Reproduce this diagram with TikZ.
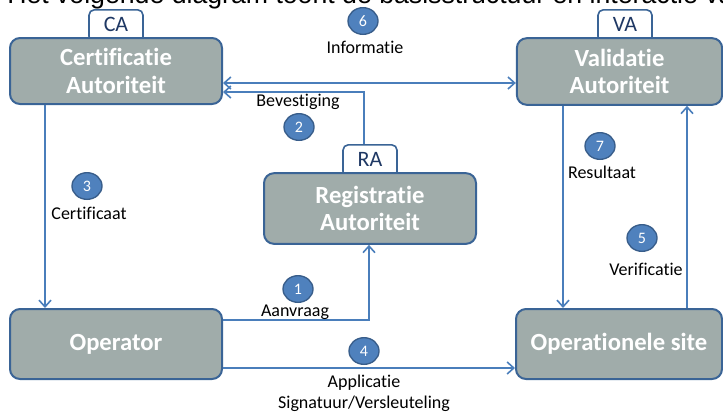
\documentclass[tikz,border=0pt]{standalone}
\usepackage{fontspec}
\setmainfont{Carlito}[Ligatures=NoCommon]
\newfontfamily\titlefont{Liberation Sans}
\usetikzlibrary{arrows.meta,positioning,shapes.geometric}
\definecolor{boxfill}{RGB}{160,172,170}
\definecolor{boxline}{RGB}{58,100,150}
\definecolor{arrowc}{RGB}{74,126,187}
\definecolor{circfill}{RGB}{79,129,189}
\definecolor{circline}{RGB}{56,93,138}
\definecolor{tabtext}{RGB}{31,56,100}
\tikzset{
  bigbox/.style={draw=boxline, line width=1.5pt, fill=boxfill, rounded corners=7.5pt,
    text=white, font=\fontsize{18.5}{20.5}\selectfont\bfseries, align=center, inner sep=0pt},
  tabbox/.style={draw=boxline, line width=1.2pt, fill=white, rounded corners=4pt,
    minimum width=40.5pt, minimum height=24pt, inner sep=0pt},
  tablabel/.style={text=tabtext, font=\fontsize{16.5}{18}\selectfont, inner sep=0pt},
  numc/.style={ellipse, draw=circline, line width=1pt, fill=circfill, minimum width=22.5pt,
    minimum height=20pt, inner sep=0pt, text=white, font=\fontsize{12}{13}\selectfont},
  lbl/.style={font=\fontsize{13.5}{15}\selectfont, inner sep=0pt, text=black},
  conn/.style={draw=arrowc, line width=1.6pt, -{Straight Barb[length=5pt,width=9pt,line width=1.2pt]}},
}
\begin{document}
\begin{tikzpicture}[x=0.75pt,y=-0.75pt]
\clip (0,0) rectangle (723,412);
\useasboundingbox (0,0) rectangle (723,412);
% title (cut off at top)
\node[anchor=base west, inner sep=0pt, font=\titlefont\fontsize{20}{22}\selectfont] (title) at (7,3) {Het volgende diagram toont de basisstructuur en interactie van};
% tabs
\node[tabbox, anchor=north] (tabca) at (116,9) {};
\node[tabbox, anchor=north] (tabva) at (625,9) {};
\node[tabbox, anchor=north] (tabra) at (370,144) {};
% boxes
\node[bigbox, minimum width=159pt, minimum height=49.5pt] (ca) at (116,71) {Certificatie\\Autoriteit};
\node[bigbox, minimum width=154pt, minimum height=50pt] (va) at (619.5,71.5) {Validatie\\Autoriteit};
\node[bigbox, minimum width=159pt, minimum height=53pt] (ra) at (370,208.5) {Registratie\\Autoriteit};
\node[bigbox, minimum width=159pt, minimum height=52.5pt] (op) at (116,344) {Operator};
\node[bigbox, minimum width=154.5pt, minimum height=52.5pt] (os) at (619,344) {Operationele site};
% tab labels
\node[tablabel] (lca) at (116,24.5) {CA};
\node[tablabel] (lva) at (625,24.5) {VA};
\node[tablabel] (lra) at (370,159.5) {RA};
% helper coordinates
\coordinate (yinfo) at (0,83);
\coordinate (ybev) at (0,92);
\coordinate (xbev) at (364,0);
\coordinate (yaan) at (0,320);
\coordinate (xaan) at (369,0);
\coordinate (xcert) at (45,0);
\coordinate (yapp) at (0,368);
\coordinate (xres) at (563,0);
\coordinate (xver) at (687,0);
% connectors
\draw[conn, {Straight Barb[length=5pt,width=9pt,line width=1.2pt]}-{Straight Barb[length=5pt,width=9pt,line width=1.2pt]}] (ca.east |- yinfo) -- (va.west |- yinfo);
\draw[conn] (tabra.north -| xbev) -- (xbev |- ybev) -- (ca.east |- ybev);
\draw[conn] (op.east |- yaan) -- (xaan |- yaan) -- (ra.south -| xaan);
\draw[conn] (ca.south -| xcert) -- (op.north -| xcert);
\draw[conn] (op.east |- yapp) -- (os.west |- yapp);
\draw[conn] (va.south -| xres) -- (os.north -| xres);
\draw[conn] (os.north -| xver) -- (va.south -| xver);
% numbers
\node[numc] (n6) at (363,21) {6};
\node[numc] (n2) at (299,127) {2};
\node[numc] (n3) at (87,186) {3};
\node[numc] (n1) at (298,289) {1};
\node[numc] (n4) at (364,351) {4};
\node[numc] (n7) at (600,146) {7};
\node[numc] (n5) at (642,238) {5};
% labels
\node[lbl] (t6) at (365,47) {Informatie};
\node[lbl] (t2) at (298,102) {Bevestiging};
\node[lbl] (t3) at (89,213) {Certificaat};
\node[lbl] (t1) at (295,312) {Aanvraag};
\node[lbl] (t4a) at (364,383) {Applicatie};
\node[lbl] (t4b) at (364,404) {Signatuur/Versleuteling};
\node[lbl] (t7) at (602,172) {Resultaat};
\node[lbl] (t5) at (646,269) {Verificatie};
\end{tikzpicture}
\end{document}
